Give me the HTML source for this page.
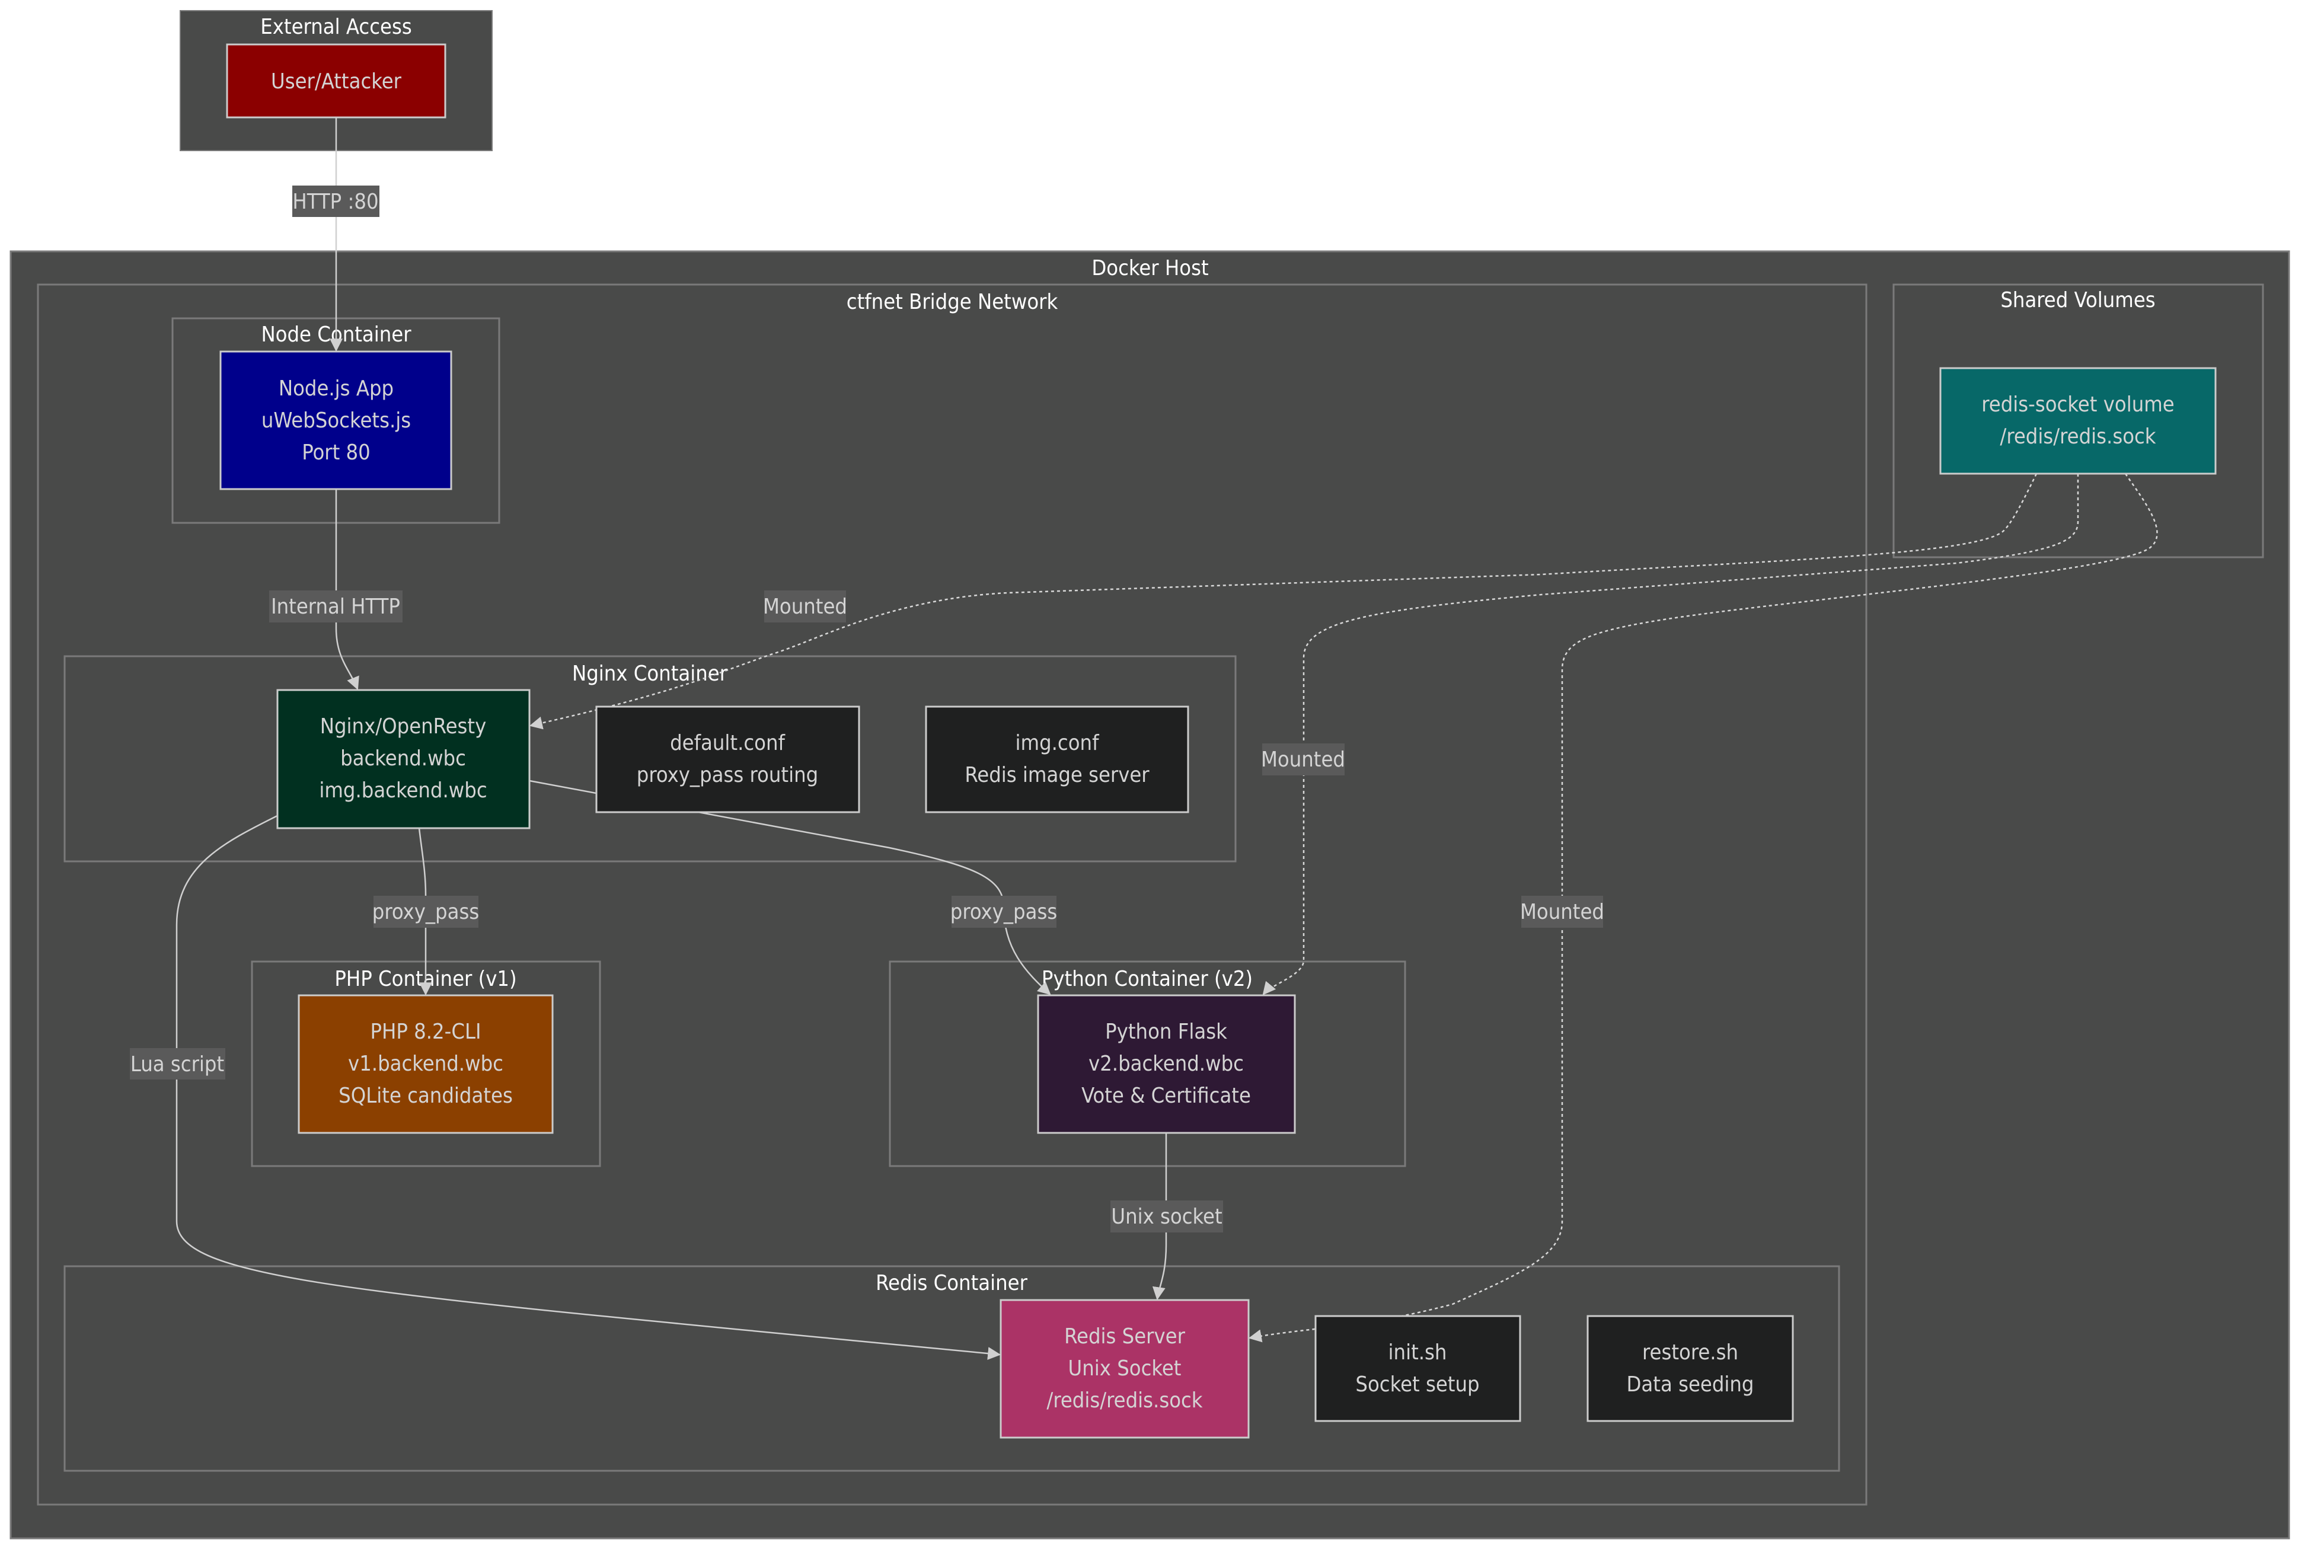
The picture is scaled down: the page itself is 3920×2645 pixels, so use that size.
<!DOCTYPE html>
<html><head><meta charset="utf-8"><style>
html,body{margin:0;padding:0;background:#fff;}
svg{display:block;}
text{font-family:"DejaVu Sans Condensed","Liberation Sans",sans-serif;}
.t{fill:#fff;font-size:36px;text-anchor:middle;}
.n{fill:#d4d4d4;font-size:36px;text-anchor:middle;}
.cl{fill:#494a49;stroke:#7a7a7a;stroke-width:3;}
.nd{stroke:#cccccc;stroke-width:3;}
.e{fill:none;stroke:#d0d0d0;stroke-width:2.5;}
.d{fill:none;stroke:#d8d8d8;stroke-width:2.5;stroke-dasharray:5 5;}
.lb{fill:#5a5a5a;}
</style></head><body>
<svg width="3920" height="2645" viewBox="0 0 3920 2645" xmlns="http://www.w3.org/2000/svg">
<defs>
<marker id="b" viewBox="0 0 10 10" refX="9" refY="5" markerWidth="22" markerHeight="22" markerUnits="userSpaceOnUse" orient="auto"><path d="M0,0L10,5L0,10z" fill="#d0d0d0"/></marker></defs>
<rect width="3920" height="2645" fill="#fff"/>
<!-- clusters -->
<rect x="304" y="18" width="526" height="236" fill="#494a49" stroke="#7a7a7a" stroke-width="2"/>
<rect x="18" y="424" width="3843" height="2171" fill="#494a49" stroke="#7a7a7a" stroke-width="3"/>
<rect class="cl" x="64" y="480" width="3084" height="2058"/>
<rect class="cl" x="3194" y="480" width="623" height="460"/>
<rect class="cl" x="291" y="537" width="551" height="345"/>
<rect class="cl" x="109" y="1107" width="1975" height="346"/>
<rect class="cl" x="425" y="1622" width="587" height="345"/>
<rect class="cl" x="1501" y="1622" width="869" height="345"/>
<rect class="cl" x="109" y="2136" width="2993" height="345"/>
<text class="t" x="567" y="57">External Access</text>
<text class="t" x="1940" y="464">Docker Host</text>
<text class="t" x="1606" y="521">ctfnet Bridge Network</text>
<text class="t" x="3505" y="518">Shared Volumes</text>
<text class="t" x="567" y="576">Node Container</text>
<text class="t" x="1096" y="1148">Nginx Container</text>
<text class="t" x="718" y="1663">PHP Container (v1)</text>
<text class="t" x="1935" y="1663">Python Container (v2)</text>
<text class="t" x="1605" y="2176">Redis Container</text>
<!-- edges -->
<path class="e" d="M567,198 L567,591" marker-end="url(#b)"/>
<path class="e" d="M567,825 L567,1060 C567,1110 590,1130 603,1162" marker-end="url(#b)"/>
<path class="e" d="M707,1397 C712,1440 718,1470 718,1510 L718,1677" marker-end="url(#b)"/>
<path class="e" d="M893,1317 L1500,1430 C1640,1460 1693,1480 1693,1530 C1693,1600 1730,1640 1771,1677" marker-end="url(#b)"/>
<path class="e" d="M468,1376 C380,1420 298,1460 298,1560 L298,2060 C298,2160 600,2180 1686,2285" marker-end="url(#b)"/>
<path class="e" d="M1967,1911 L1967,2100 C1967,2150 1955,2170 1952,2191" marker-end="url(#b)"/>
<path class="d" d="M3435,799 C3415,840 3395,880 3380,895 C3340,935 3000,945 2600,969 L1700,1000 C1500,1010 1380,1080 1300,1104 L1200,1140 C1100,1175 1000,1200 895,1224" marker-end="url(#b)"/>
<path class="d" d="M3505,799 L3505,880 C3505,915 3460,930 3300,950 L2600,1003 C2300,1030 2199,1050 2199,1110 L2199,1620 C2199,1645 2145,1660 2131,1677" marker-end="url(#b)"/>
<path class="d" d="M3585,799 C3620,850 3660,900 3625,925 C3580,955 3300,985 3000,1020 C2700,1055 2635,1070 2635,1130 L2635,2060 C2635,2120 2560,2150 2450,2200 C2300,2240 2200,2240 2108,2257" marker-end="url(#b)"/>
<!-- nodes -->
<rect class="nd" x="383" y="75" width="368" height="123" fill="#8b0000"/>
<text class="n" x="567" y="149">User/Attacker</text>
<rect class="nd" x="372" y="593" width="389" height="232" fill="#00008b"/>
<text class="n" x="567" y="667">Node.js App</text><text class="n" x="567" y="721">uWebSockets.js</text><text class="n" x="567" y="775">Port 80</text>
<rect class="nd" x="3273" y="621" width="464" height="178" fill="#076868"/>
<text class="n" x="3505" y="694">redis-socket volume</text><text class="n" x="3505" y="748">/redis/redis.sock</text>
<rect class="nd" x="468" y="1164" width="425" height="233" fill="#013020"/>
<text class="n" x="680" y="1237">Nginx/OpenResty</text><text class="n" x="680" y="1291">backend.wbc</text><text class="n" x="680" y="1345">img.backend.wbc</text>
<rect class="nd" x="1006" y="1192" width="443" height="178" fill="#1f2020"/>
<text class="n" x="1227" y="1265">default.conf</text><text class="n" x="1227" y="1319">proxy_pass routing</text>
<rect class="nd" x="1562" y="1192" width="442" height="178" fill="#1f2020"/>
<text class="n" x="1783" y="1265">img.conf</text><text class="n" x="1783" y="1319">Redis image server</text>
<rect class="nd" x="504" y="1679" width="428" height="232" fill="#8b4000"/>
<text class="n" x="718" y="1752">PHP 8.2-CLI</text><text class="n" x="718" y="1806">v1.backend.wbc</text><text class="n" x="718" y="1860">SQLite candidates</text>
<rect class="nd" x="1751" y="1679" width="433" height="232" fill="#2e1934"/>
<text class="n" x="1967" y="1752">Python Flask</text><text class="n" x="1967" y="1806">v2.backend.wbc</text><text class="n" x="1967" y="1860">Vote &amp; Certificate</text>
<rect class="nd" x="1688" y="2193" width="418" height="232" fill="#ab3366"/>
<text class="n" x="1897" y="2266">Redis Server</text><text class="n" x="1897" y="2320">Unix Socket</text><text class="n" x="1897" y="2374">/redis/redis.sock</text>
<rect class="nd" x="2219" y="2220" width="345" height="177" fill="#1f2020"/>
<text class="n" x="2391" y="2293">init.sh</text><text class="n" x="2391" y="2347">Socket setup</text>
<rect class="nd" x="2678" y="2220" width="346" height="177" fill="#1f2020"/>
<text class="n" x="2851" y="2293">restore.sh</text><text class="n" x="2851" y="2347">Data seeding</text>
<!-- edge labels -->
<rect class="lb" x="493" y="313" width="147" height="53"/><text class="n" x="566" y="352">HTTP :80</text>
<rect class="lb" x="454" y="996" width="225" height="54"/><text class="n" x="566" y="1035">Internal HTTP</text>
<rect class="lb" x="1289" y="996" width="138" height="54"/><text class="n" x="1358" y="1035">Mounted</text>
<rect class="lb" x="2129" y="1254" width="139" height="54"/><text class="n" x="2198" y="1293">Mounted</text>
<rect class="lb" x="630" y="1511" width="177" height="54"/><text class="n" x="718" y="1550">proxy_pass</text>
<rect class="lb" x="1605" y="1511" width="177" height="54"/><text class="n" x="1693" y="1550">proxy_pass</text>
<rect class="lb" x="2566" y="1511" width="138" height="54"/><text class="n" x="2635" y="1550">Mounted</text>
<rect class="lb" x="219" y="1768" width="161" height="53"/><text class="n" x="299" y="1807">Lua script</text>
<rect class="lb" x="1873" y="2025" width="190" height="54"/><text class="n" x="1968" y="2064">Unix socket</text>
</svg>
</body></html>
